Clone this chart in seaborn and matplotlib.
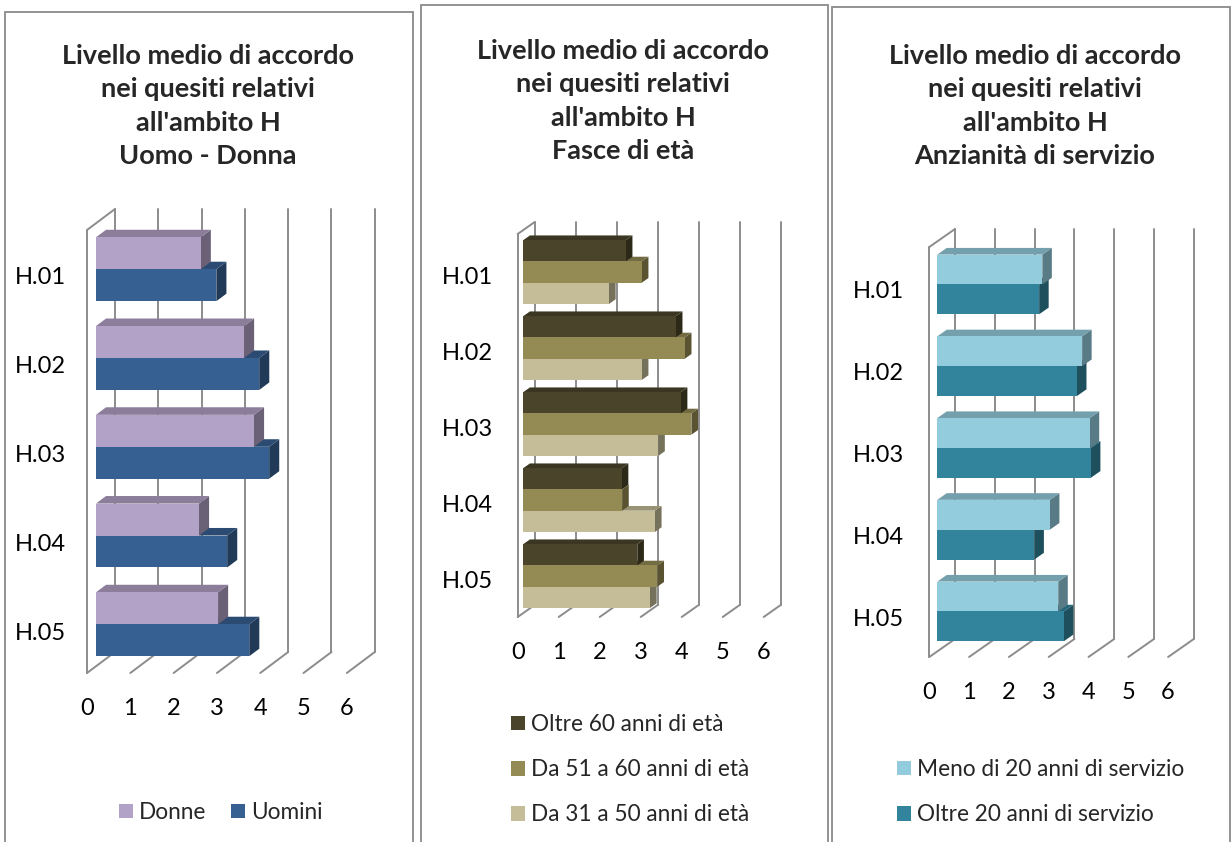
import numpy as np
import pandas as pd
import seaborn as sns
import matplotlib.pyplot as plt
import matplotlib.colors as mcolors
from matplotlib.patches import Polygon, Rectangle, Patch
from matplotlib.lines import Line2D

# data
questions = ['H.01', 'H.02', 'H.03', 'H.04', 'H.05']
x_ticks = [0, 1, 2, 3, 4, 5, 6]

# panel 1: Uomo - Donna
sex_names = ['Donne', 'Uomini']
donne = [2.42, 3.42, 3.65, 2.38, 2.82]
uomini = [2.78, 3.77, 4.00, 3.03, 3.54]

# panel 2: fasce di eta
age_names = ['Oltre 60 anni di età', 'Da 51 a 60 anni di età', 'Da 31 a 50 anni di età']
oltre_60 = [2.50, 3.72, 3.84, 2.40, 2.78]
da_51_60 = [2.89, 3.94, 4.10, 2.41, 3.27]
da_31_50 = [2.09, 2.89, 3.29, 3.21, 3.09]

# panel 3: anzianita di servizio
serv_names = ['Meno di 20 anni di servizio', 'Oltre 20 anni di servizio']
meno_20 = [2.64, 3.64, 3.83, 2.83, 3.04]
oltre_20 = [2.56, 3.51, 3.86, 2.44, 3.18]

title_head = "Livello medio di accordo\nnei quesiti relativi\nall'ambito H\n"
titles = [title_head + 'Uomo - Donna', title_head + 'Fasce di età',
          title_head + 'Anzianità di servizio']

sns.set_theme(style='white')
plt.rcParams['font.family'] = ['Lato', 'DejaVu Sans']

W, H, DPI = 1232, 842, 100
fig = plt.figure(figsize=(W / DPI, H / DPI), dpi=DPI)
GRID = '#8c8c8c'


def shade(color, f):
    r, g, b = mcolors.to_rgb(color)
    return (r * f, g * f, b * f)


def draw_panel(names, values, colors, title, lay):
    df = pd.DataFrame({
        'question': np.tile(questions, len(names)),
        'serie': np.repeat(names, len(questions)),
        'value': np.concatenate(values),
    })

    # panel frame
    l, t, r = lay['box']
    fig.patches.append(Rectangle((l / W, -0.05), (r - l) / W, 1.05 - t / H,
                                 transform=fig.transFigure, fill=False,
                                 edgecolor='#8a8a8a', lw=1.3))
    fig.text(lay['title_x'] / W, 1 - lay['title_y'] / H, title, ha='center',
             va='center', fontsize=19.5, fontweight='bold', linespacing=1.47)

    # axes placed so that data coords are the front plane of the 3d box
    f0, unit, cat0, sp = lay['front0'], lay['unit'], lay['cat0'], lay['spacing']
    dx, dy = lay['depth']
    floor, back_top = lay['floor'], lay['back_top']
    right_px = f0 + 6 * unit + dx + 4
    ax = fig.add_axes([f0 / W, 1 - floor / H, (right_px - f0) / W,
                       (floor - back_top + 2) / H])
    sns.barplot(data=df, x='value', y='question', hue='serie', order=questions,
                hue_order=names, palette=colors, width=lay['gw'], orient='h',
                errorbar=None, saturation=1, linewidth=0, legend=False, ax=ax)
    ax.set_xlim(0, (right_px - f0) / unit)
    ax.set_ylim((floor - cat0) / sp, (back_top - 2 - cat0) / sp)
    ax.set_xticks(x_ticks)
    ax.set_xlabel('')
    ax.set_ylabel('')
    ax.tick_params(axis='x', length=0, pad=lay['xpad'], labelsize=17,
                   labelcolor='black')
    ax.tick_params(axis='y', length=0, pad=lay['ypad'], labelsize=17,
                   labelcolor='black')
    for s in ax.spines.values():
        s.set_visible(False)
    ax.patch.set_alpha(0)

    to_disp = ax.transData.transform
    to_data = ax.transData.inverted().transform

    def dline(p, q, z=0.5):
        pts = to_data(np.array([p, q]))
        ax.add_line(Line2D(pts[:, 0], pts[:, 1], color=GRID, lw=1.4,
                           zorder=z, clip_on=False))

    y_floor = (floor - cat0) / sp
    top_disp = H - back_top
    for x in x_ticks:
        px, py = to_disp((x, y_floor))
        dline((px, py), (px + dx, py + dy))
        dline((px + dx, py + dy), (px + dx, top_disp))
        if x == 0:
            dline((px, py), (px, top_disp - dy))
            dline((px, top_disp - dy), (px + dx, top_disp))

    # fake 3d: shift the bars into the box and add top/side faces
    b0, b1 = lay['bar_depth']
    bx, by = dx * b0, dy * b0
    sx, sy = dx * (b1 - b0), dy * (b1 - b0)
    info = []
    for p in list(ax.patches):
        (x0, y0), (x1, y1) = to_disp([(p.get_x(), p.get_y()),
                                      (p.get_x() + p.get_width(),
                                       p.get_y() + p.get_height())])
        info.append((min(y0, y1), p, x0 + bx, x1 + bx, min(y0, y1) + by,
                     max(y0, y1) + by))
    info.sort(key=lambda k: k[0])
    for rank, (_, p, L, R, B, T) in enumerate(info):
        z = 2 + rank * 0.1
        col = p.get_facecolor()
        front = to_data([(L, B), (R, B), (R, T), (L, T)])
        top = to_data([(L, T), (R, T), (R + sx, T + sy), (L + sx, T + sy)])
        side = to_data([(R, B), (R + sx, B + sy), (R + sx, T + sy), (R, T)])
        p.set_visible(False)
        ax.add_patch(Polygon(side, closed=True, fc=shade(col, 0.6), ec='none',
                             zorder=z, clip_on=False))
        ax.add_patch(Polygon(top, closed=True, fc=shade(col, 0.78), ec='none',
                             zorder=z + 0.03, clip_on=False))
        ax.add_patch(Polygon(front, closed=True, fc=col, ec='none',
                             zorder=z + 0.06, clip_on=False))

    handles = [Patch(facecolor=c, edgecolor='none') for c in colors]
    lx, ly = lay['legend']
    ax.legend(handles, names, loc='upper left', bbox_to_anchor=(lx / W, 1 - ly / H),
              bbox_transform=fig.transFigure, frameon=False, ncol=lay['ncol'],
              fontsize=16.3, handlelength=0.62, handleheight=0.62,
              handletextpad=0.27, columnspacing=1.1, borderpad=0,
              borderaxespad=0, labelspacing=lay['lspace'])


draw_panel(sex_names, [donne, uomini], ['#b3a2c7', '#376092'], titles[0], dict(
    box=(5, 12, 413), title_x=208, title_y=106, front0=87, unit=43.3,
    cat0=276, spacing=88.75, depth=(28, 21), floor=673, back_top=209,
    gw=0.72, bar_depth=(0.32, 0.68), xpad=18, ypad=15, legend=(119, 802),
    ncol=2, lspace=1.0))

draw_panel(age_names, [oltre_60, da_51_60, da_31_50],
           ['#4a452a', '#948a54', '#c4bd97'], titles[1], dict(
    box=(421, 5, 828), title_x=623, title_y=101, front0=517.7, unit=41.0,
    cat0=276, spacing=76, depth=(17, 12), floor=617, back_top=222,
    gw=0.84, bar_depth=(0.33, 0.72), xpad=18, ypad=18, legend=(511, 714),
    ncol=1, lspace=1.07))

draw_panel(serv_names, [meno_20, oltre_20], ['#93cddd', '#31849b'], titles[2], dict(
    box=(832, 7, 1230), title_x=1035, title_y=106, front0=929.3, unit=39.8,
    cat0=290, spacing=81.75, depth=(25.7, 18), floor=657, back_top=229,
    gw=0.73, bar_depth=(0.31, 0.68), xpad=18, ypad=18, legend=(897, 759),
    ncol=1, lspace=1.07))

fig.savefig('out.png', dpi=DPI, facecolor='white')
